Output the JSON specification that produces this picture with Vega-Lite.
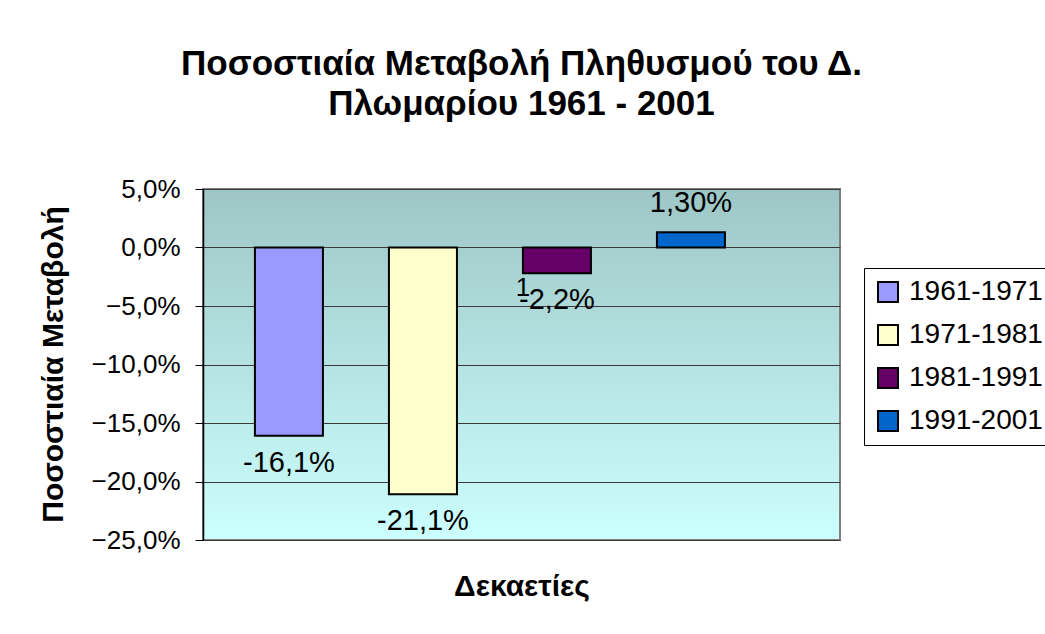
{
  "$schema": "https://vega.github.io/schema/vega-lite/v6.json",
  "autosize": {"type": "none"},
  "width": 637,
  "height": 351,
  "padding": {"left": 203, "top": 189, "right": 205, "bottom": 94},
  "background": "white",
  "title": {
    "text": ["Ποσοστιαία Μεταβολή Πληθυσμού του Δ.", "Πλωμαρίου 1961 - 2001"],
    "fontSize": 35,
    "fontWeight": "bold",
    "font": "Liberation Sans",
    "color": "black",
    "lineHeight": 40,
    "anchor": "middle",
    "offset": 54
  },
  "data": {
    "values": [
      {"period": "1961-1971", "value": -0.161, "label": "-16,1%", "extra": ""},
      {"period": "1971-1981", "value": -0.211, "label": "-21,1%", "extra": ""},
      {"period": "1981-1991", "value": -0.022, "label": "-2,2%", "extra": "1"},
      {"period": "1991-2001", "value": 0.013, "label": "1,30%", "extra": ""}
    ]
  },
  "encoding": {
    "x": {
      "field": "period",
      "type": "nominal",
      "sort": null,
      "scale": {"paddingInner": 0.4925, "paddingOuter": 0.623, "align": 0.311},
      "axis": {
        "title": "Δεκαετίες",
        "labels": false,
        "ticks": false,
        "domain": false,
        "titleFont": "Liberation Sans",
        "titleFontSize": 30,
        "titleFontWeight": "bold",
        "titleColor": "black",
        "titleBaseline": "middle",
        "titleY": 46
      }
    },
    "y": {
      "field": "value",
      "type": "quantitative",
      "scale": {"domain": [-0.25, 0.05], "nice": false, "zero": false},
      "axis": {
        "title": "Ποσοστιαία Μεταβολή",
        "values": [-0.25, -0.2, -0.15, -0.1, -0.05, 0, 0.05],
        "format": ".1%",
        "labelFont": "Liberation Sans",
        "labelFontSize": 26,
        "labelColor": "black",
        "labelPadding": 15,
        "tickSize": 8,
        "tickColor": "black",
        "domainColor": "black",
        "domainWidth": 1.5,
        "grid": true,
        "gridColor": "#3a3a3a",
        "gridWidth": 1,
        "titleFont": "Liberation Sans",
        "titleFontSize": 30,
        "titleFontWeight": "bold",
        "titleColor": "black",
        "titleAngle": -90,
        "titleBaseline": "middle",
        "titleAlign": "center",
        "titleX": -150,
        "titleY": 175
      }
    }
  },
  "layer": [
    {
      "mark": {"type": "bar", "stroke": "black", "strokeWidth": 2},
      "encoding": {
        "color": {
          "field": "period",
          "type": "nominal",
          "sort": null,
          "scale": {
            "domain": ["1961-1971", "1971-1981", "1981-1991", "1991-2001"],
            "range": ["#9999ff", "#ffffcc", "#660066", "#0066cc"]
          },
          "legend": {
            "title": null,
            "orient": "none",
            "legendX": 661,
            "legendY": 79,
            "strokeColor": "black",
            "fillColor": "white",
            "padding": 10,
            "symbolType": "square",
            "symbolSize": 400,
            "symbolStrokeColor": "black",
            "symbolStrokeWidth": 2,
            "symbolOpacity": 1,
            "labelFont": "Liberation Sans",
            "labelFontSize": 28,
            "labelColor": "black",
            "labelOffset": 7,
            "rowPadding": 15
          }
        }
      }
    },
    {
      "transform": [{"filter": "datum.value < 0"}],
      "mark": {"type": "text", "font": "Liberation Sans", "fontSize": 29, "color": "black", "baseline": "middle", "dy": 27},
      "encoding": {"text": {"field": "label"}}
    },
    {
      "transform": [{"filter": "datum.value >= 0"}],
      "mark": {"type": "text", "font": "Liberation Sans", "fontSize": 29, "color": "black", "baseline": "middle", "dy": -29},
      "encoding": {"text": {"field": "label"}}
    },
    {
      "transform": [{"filter": "datum.extra != ''"}],
      "mark": {"type": "text", "font": "Liberation Sans", "fontSize": 26, "color": "black", "baseline": "middle", "dx": -34, "dy": 15},
      "encoding": {"text": {"field": "extra"}}
    }
  ],
  "config": {
    "locale": {"number": {"decimal": ",", "thousands": ".", "grouping": [3], "currency": ["", " €"]}},
    "view": {
      "stroke": "#808080",
      "strokeWidth": 2,
      "fill": {
        "gradient": "linear",
        "x1": 0, "y1": 0, "x2": 0, "y2": 1,
        "stops": [
          {"offset": 0, "color": "#9ec6c6"},
          {"offset": 1, "color": "#ccffff"}
        ]
      }
    }
  }
}
